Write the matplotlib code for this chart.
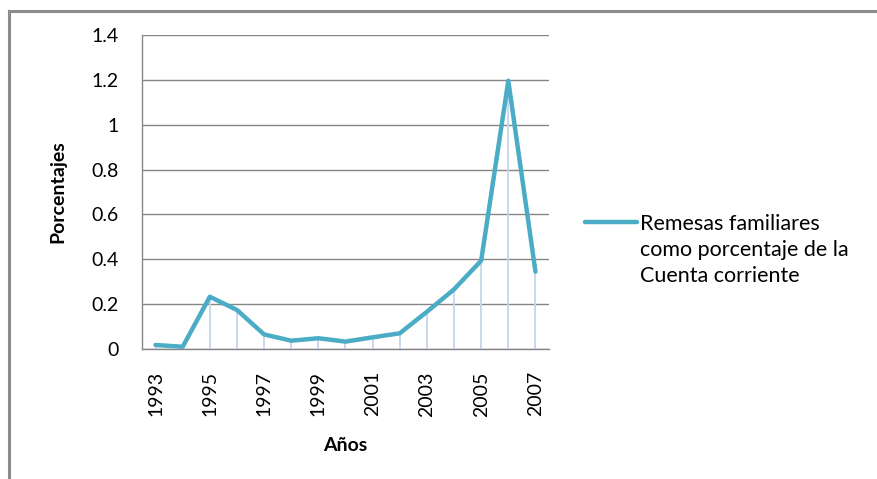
import numpy as np
import matplotlib
matplotlib.use("Agg")
import matplotlib.pyplot as plt
from matplotlib.lines import Line2D
from matplotlib.legend_handler import HandlerLine2D

plt.rcParams['font.family'] = ['Lato', 'DejaVu Sans']

# datos
years = [1993, 1994, 1995, 1996, 1997, 1998, 1999, 2000,
         2001, 2002, 2003, 2004, 2005, 2006, 2007]
values = [0.018, 0.010, 0.233, 0.174, 0.065, 0.037, 0.048, 0.033,
          0.052, 0.070, 0.166, 0.266, 0.394, 1.196, 0.345]
yticks = [0, 0.2, 0.4, 0.6, 0.8, 1, 1.2, 1.4]
ytick_labels = ['0', '0.2', '0.4', '0.6', '0.8', '1', '1.2', '1.4']
series_label = 'Remesas familiares\ncomo porcentaje de la\nCuenta corriente'

line_color = '#4bacc6'
drop_color = '#c6d6ee'
grid_color = '#868686'
LEG_SIZE = 15.5
LEG_SPACING = 1.4


class TopLineHandler(HandlerLine2D):
    # pone la muestra de la leyenda a la altura de la primera linea
    def create_artists(self, legend, orig_handle, xdescent, ydescent,
                       width, height, fontsize, trans):
        arts = super().create_artists(legend, orig_handle, xdescent, ydescent,
                                      width, height, fontsize, trans)
        for a in arts:
            a.set_ydata(np.asarray(a.get_ydata()) + fontsize * LEG_SPACING * 0.95)
        return arts


fig = plt.figure(figsize=(8.78, 4.79), dpi=100)
ax = fig.add_axes([0.1617, 0.2714, 0.4636, 0.6555])

x = np.arange(len(years))
ax.vlines(x, 0, values, color=drop_color, lw=1.3, zorder=2)
ax.plot(x, values, color=line_color, lw=3.2, solid_capstyle='round',
        solid_joinstyle='round', zorder=3, label=series_label)

ax.set_xlim(-0.5, len(years) - 0.5)
ax.set_ylim(0, 1.4)
ax.set_yticks(yticks)
ax.set_yticklabels(ytick_labels)
ax.set_xticks(x[::2])
ax.set_xticklabels([str(y) for y in years[::2]], rotation=90)
ax.tick_params(axis='both', length=0, labelsize=14, colors='black')
ax.tick_params(axis='y', pad=17)
ax.tick_params(axis='x', pad=16)

ax.grid(axis='y', color=grid_color, lw=1.0, zorder=0)
ax.set_axisbelow(True)
for s in ['top', 'right']:
    ax.spines[s].set_visible(False)
for s in ['left', 'bottom']:
    ax.spines[s].set_color(grid_color)
    ax.spines[s].set_linewidth(1.0)

ax.set_ylabel('Porcentajes', fontsize=14, fontweight='bold', labelpad=18)
ax.set_xlabel('Años', fontsize=14, fontweight='bold', labelpad=15)

leg = ax.legend(loc='upper left', bbox_to_anchor=(0.6663, 0.554),
                bbox_transform=fig.transFigure, frameon=False, fontsize=LEG_SIZE,
                borderpad=0, borderaxespad=0,
                handlelength=2.4, handletextpad=0.15,
                handler_map={Line2D: TopLineHandler()})
for t in leg.get_texts():
    t.set_linespacing(LEG_SPACING)

# borde del grafico
fig.add_artist(Line2D([0.0103, 0.0103], [0, 0.978], transform=fig.transFigure,
                      color='#8c8c8c', lw=2.2))
fig.add_artist(Line2D([0.0103, 1.0], [0.978, 0.978], transform=fig.transFigure,
                      color='#8c8c8c', lw=2.2))

fig.savefig('out.png', dpi=100, facecolor='white')
